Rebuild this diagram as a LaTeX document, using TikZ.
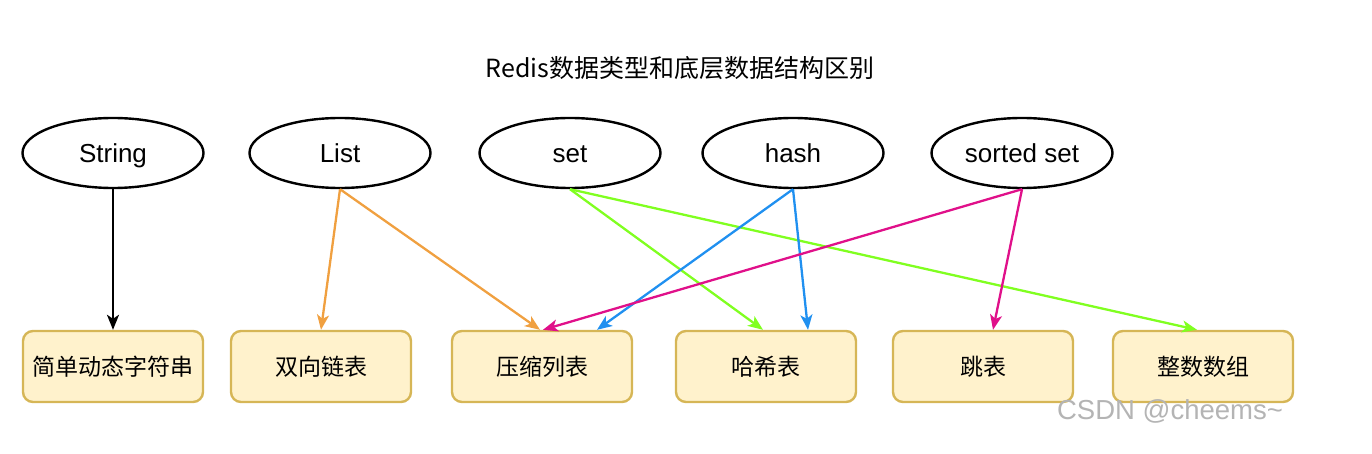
\documentclass[tikz,border=0pt]{standalone}
\usepackage{fontspec}
\setmainfont{Liberation Sans}
\newfontfamily\cjk{Noto Sans CJK SC}
\usetikzlibrary{shapes.geometric,arrows.meta}
\definecolor{boxfill}{HTML}{FFF2CC}
\definecolor{boxline}{HTML}{D6B656}
\definecolor{corange}{HTML}{F0A040}
\definecolor{cgreen}{HTML}{80FF20}
\definecolor{cblue}{HTML}{2090F0}
\definecolor{cmag}{HTML}{E0108A}
\definecolor{wm}{HTML}{B4B4B4}
\tikzset{
  typ/.style={ellipse, draw=black, line width=2.4pt, minimum width=181pt, minimum height=70pt, inner sep=0pt, text height=22pt, text depth=2pt, font=\fontsize{26}{30}\selectfont},
  struct/.style={rectangle, rounded corners=10pt, draw=boxline, fill=boxfill, line width=2.4pt, minimum width=180pt, minimum height=71pt, inner sep=0pt, font=\cjk\fontsize{23}{26}\selectfont},
  conn/.style={line width=2.3pt, -{Stealth[length=15pt,width=12pt,inset=4pt]}},
}
\begin{document}
\begin{tikzpicture}[x=1pt,y=-1pt]
\useasboundingbox (0,0) rectangle (1372,454);
\node[font=\cjk\fontsize{25}{28}\selectfont] (title) at (680,68) {Redis数据类型和底层数据结构区别};
\node[typ] (s) at (113,153) {String};
\node[typ] (l) at (340,153) {List};
\node[typ] (st) at (570,153) {set};
\node[typ] (h) at (793,153) {hash};
\node[typ] (z) at (1022,153) {sorted set};
\node[struct] (b1) at (113,366.5) {简单动态字符串};
\node[struct] (b2) at (321,366.5) {双向链表};
\node[struct] (b3) at (542,366.5) {压缩列表};
\node[struct] (b4) at (766,366.5) {哈希表};
\node[struct] (b5) at (983,366.5) {跳表};
\node[struct] (b6) at (1203,366.5) {整数数组};
\draw[conn, black] (s.south) -- (b1.north);
\draw[conn, corange] (l.south) -- ([xshift=0pt]b2.north);
\draw[conn, corange] (l.south) -- ([xshift=-2pt]b3.north);
\draw[conn, cgreen] (st.south) -- ([xshift=-3pt]b4.north);
\draw[conn, cgreen] (st.south) -- ([xshift=-6pt]b6.north);
\draw[conn, cblue] (h.south) -- ([xshift=55pt]b3.north);
\draw[conn, cblue] (h.south) -- ([xshift=42pt]b4.north);
\draw[conn, cmag] (z.south) -- ([xshift=1pt]b3.north);
\draw[conn, cmag] (z.south) -- ([xshift=10pt]b5.north);
\node[text=wm, font=\fontsize{27.5}{30}\selectfont] (wmk) at (1170,411) {CSDN @cheems\textasciitilde};
\end{tikzpicture}
\end{document}
